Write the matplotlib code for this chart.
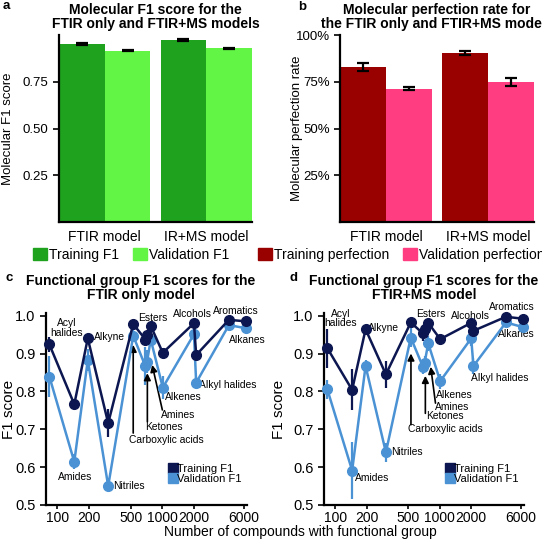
import matplotlib
matplotlib.use('Agg')
import matplotlib.pyplot as plt
from matplotlib.patches import Patch
from matplotlib.lines import Line2D
from matplotlib.ticker import FixedLocator, NullLocator, FixedFormatter
import numpy as np

plt.rcParams['font.family'] = ['Liberation Sans', 'DejaVu Sans']

# --- panel a / b data ---
models = ['FTIR model', 'IR+MS model']
f1_train = [0.954, 0.972]
f1_train_err = [0.005, 0.004]
f1_val = [0.917, 0.928]
f1_val_err = [0.004, 0.005]
perf_train = [0.830, 0.904]
perf_train_err = [0.022, 0.010]
perf_val = [0.713, 0.750]
perf_val_err = [0.007, 0.022]

# --- panel c / d data ---
groups = ['Acyl halides', 'Amides', 'Alkyne', 'Nitriles', 'Carboxylic acids', 'Ketones',
          'Amines', 'Esters', 'Alkenes', 'Alcohols', 'Alkyl halides', 'Aromatics', 'Alkanes']
counts = [84, 145, 195, 305, 528, 690, 715, 775, 1010, 2000, 2100, 4300, 6200]
ftir_train = [0.924, 0.766, 0.940, 0.716, 0.978, 0.937, 0.948, 0.973, 0.902, 0.980, 0.896, 0.989, 0.985]
ftir_train_err = [0.020, 0.010, 0.010, 0.037, 0.010, 0.015, 0.010, 0.010, 0.012, 0.005, 0.012, 0.005, 0.005]
ftir_val = [0.839, 0.614, 0.883, 0.550, 0.947, 0.866, 0.878, 0.937, 0.810, 0.951, 0.823, 0.975, 0.967]
ftir_val_err = [0.055, 0.020, 0.030, 0.010, 0.015, 0.050, 0.030, 0.015, 0.030, 0.015, 0.015, 0.010, 0.010]
ms_train = [0.914, 0.804, 0.964, 0.845, 0.982, 0.953, 0.964, 0.981, 0.938, 0.981, 0.960, 0.997, 0.992]
ms_train_err = [0.052, 0.054, 0.010, 0.036, 0.005, 0.020, 0.015, 0.010, 0.008, 0.010, 0.010, 0.005, 0.005]
ms_val = [0.805, 0.591, 0.867, 0.639, 0.942, 0.865, 0.874, 0.927, 0.827, 0.940, 0.867, 0.982, 0.970]
ms_val_err = [0.024, 0.076, 0.015, 0.026, 0.025, 0.020, 0.020, 0.020, 0.020, 0.020, 0.020, 0.010, 0.010]

W, H = 542, 540
fig = plt.figure(figsize=(W / 100, H / 100), dpi=100)


def box(l, t, r, b):
    return [l / W, 1 - b / H, (r - l) / W, (b - t) / H]


def bar_panel(ax, train, train_err, val, val_err, c_train, c_val, labels, ylabel, yticklabels, leg_x):
    x = np.arange(len(models))
    w = 0.45
    ekw = dict(ecolor='black', elinewidth=1.6, capsize=4, capthick=1.6)
    ax.bar(x - w / 2, train, w, yerr=train_err, color=c_train, error_kw=ekw)
    ax.bar(x + w / 2, val, w, yerr=val_err, color=c_val, error_kw=ekw)
    ax.set_xlim(-0.45, 1.45)
    ax.set_ylim(0, 1.0)
    ax.set_xticks(x)
    ax.set_xticklabels(models, fontsize=10)
    ax.tick_params(axis='x', length=0, pad=6)
    ax.set_yticks([0.25, 0.5, 0.75] if yticklabels is None else [0.25, 0.5, 0.75, 1.0])
    if yticklabels is not None:
        ax.set_yticklabels(yticklabels)
    ax.tick_params(axis='y', labelsize=9.5, length=4, width=1.2)
    for s in ['top', 'right']:
        ax.spines[s].set_visible(False)
    for s in ['left', 'bottom']:
        ax.spines[s].set_linewidth(1.6)
    ax.set_ylabel(ylabel, fontsize=9.5)
    handles = [Patch(color=c_train), Patch(color=c_val)]
    ax.legend(handles, labels, ncol=2, frameon=False, loc='upper center',
              bbox_to_anchor=(leg_x, -0.1), fontsize=10, handlelength=1.0, handleheight=1.0,
              handletextpad=0.15, columnspacing=1.0, borderpad=0)


ax_a = fig.add_axes(box(59, 35, 252, 222))
bar_panel(ax_a, f1_train, f1_train_err, f1_val, f1_val_err, '#1fa31f', '#62f545',
          ['Training F1', 'Validation F1'], 'Molecular F1 score', None, 0.375)
ax_a.yaxis.set_label_coords(-0.235, 0.5)
ax_a.set_title('Molecular F1 score for the\nFTIR only and FTIR+MS models',
               fontsize=10, fontweight='bold', pad=5, linespacing=1.05)

ax_b = fig.add_axes(box(340, 35, 534, 222))
bar_panel(ax_b, perf_train, perf_train_err, perf_val, perf_val_err, '#990000', '#ff3d80',
          ['Training perfection', 'Validation perfection'], 'Molecular perfection rate',
          ['25%', '50%', '75%', '100%'], 0.315)
ax_b.yaxis.set_label_coords(-0.19, 0.5)
ax_b.set_title('Molecular perfection rate for\nthe FTIR only and FTIR+MS models',
               fontsize=10, fontweight='bold', pad=5, linespacing=1.05)

navy = '#0c1650'
blue = '#4a92d4'


def line_panel(ax, train, train_err, val, val_err, labels, arrows):
    for y, e, c, z in [(val, val_err, blue, 3), (train, train_err, navy, 4)]:
        ax.errorbar(counts, y, yerr=e, color=c, lw=1.8, elinewidth=1.6, capsize=0,
                    marker='o', markersize=7, zorder=z, clip_on=False)
    ax.set_xscale('log')
    ax.set_xlim(78, 6400)
    ax.set_ylim(0.5, 1.007)
    ax.xaxis.set_major_locator(FixedLocator([100, 200, 500, 1000, 2000, 6000]))
    ax.xaxis.set_major_formatter(FixedFormatter(['100', '200', '500', '1000', '2000', '6000']))
    ax.xaxis.set_minor_locator(NullLocator())
    ax.set_yticks([0.5, 0.6, 0.7, 0.8, 0.9, 1.0])
    ax.set_yticklabels(['0.5', '0.6', '0.7', '0.8', '0.9', '1.0'])
    ax.tick_params(axis='y', labelsize=10.5, length=4, width=1.2)
    ax.tick_params(axis='x', labelsize=10, length=3, width=1.2, pad=1.5)
    for s in ['top', 'right']:
        ax.spines[s].set_visible(False)
    for s in ['left', 'bottom']:
        ax.spines[s].set_linewidth(1.6)
    ax.set_ylabel('F1 score', fontsize=11)
    for name, (tx, ty, ha) in labels.items():
        ax.text(tx, ty, name, fontsize=7.4, ha=ha, va='center', linespacing=0.95)
    for (x0, y0), (x1, y1) in arrows:
        ax.annotate('', xy=(x1, y1), xytext=(x0, y0),
                    arrowprops=dict(arrowstyle='-|>', color='black', lw=1.2,
                                    mutation_scale=10, shrinkA=0, shrinkB=0))
    handles = [Line2D([], [], marker='s', ls='', color=navy, markersize=7),
               Line2D([], [], marker='s', ls='', color=blue, markersize=7)]
    ax.legend(handles, ['Training F1', 'Validation F1'], loc='lower right',
              bbox_to_anchor=(1.0, 0.08), frameon=False, fontsize=8,
              handlelength=0.7, handletextpad=0.05, labelspacing=0.05, borderpad=0)


ax_c = fig.add_axes(box(46, 313, 247, 505))
labels_c = {
    'Acyl\nhalides': (122, 0.968, 'center'),
    'Alkyne': (225, 0.943, 'left'),
    'Amides': (148, 0.575, 'center'),
    'Nitriles': (343, 0.551, 'left'),
    'Esters': (811, 0.993, 'center'),
    'Alcohols': (1928, 1.004, 'center'),
    'Aromatics': (4990, 1.013, 'center'),
    'Alkanes': (4315, 0.936, 'left'),
    'Alkyl halides': (2250, 0.817, 'left'),
    'Alkenes': (1067, 0.785, 'left'),
    'Amines': (972, 0.737, 'left'),
    'Ketones': (692, 0.705, 'left'),
    'Carboxylic acids': (481, 0.672, 'left'),
}
arrows_c = [((528, 0.69), (528, 0.923)),
            ((720, 0.72), (720, 0.848)),
            ((1000, 0.751), (800, 0.87))]
line_panel(ax_c, ftir_train, ftir_train_err, ftir_val, ftir_val_err, labels_c, arrows_c)
ax_c.yaxis.set_label_coords(-0.15, 0.5)
ax_c.text(0.473, 1.055, 'Functional group F1 scores for the\nFTIR only model', transform=ax_c.transAxes,
          ha='center', va='bottom', fontsize=10, fontweight='bold', linespacing=1.05)

ax_d = fig.add_axes(box(324, 313, 524, 505))
labels_d = {
    'Acyl\nhalides': (113, 0.992, 'center'),
    'Alkyne': (205, 0.968, 'left'),
    'Amides': (156, 0.571, 'left'),
    'Nitriles': (343, 0.639, 'left'),
    'Esters': (817, 1.004, 'center'),
    'Alcohols': (1954, 1.0, 'center'),
    'Aromatics': (4855, 1.024, 'center'),
    'Alkanes': (5460, 0.952, 'center'),
    'Alkyl halides': (1986, 0.835, 'left'),
    'Alkenes': (929, 0.791, 'left'),
    'Amines': (895, 0.76, 'left'),
    'Ketones': (733, 0.734, 'left'),
    'Carboxylic acids': (496, 0.70, 'left'),
}
arrows_d = [((530, 0.712), (530, 0.90)),
            ((728, 0.742), (728, 0.841)),
            ((910, 0.769), (819, 0.865))]
line_panel(ax_d, ms_train, ms_train_err, ms_val, ms_val_err, labels_d, arrows_d)
ax_d.yaxis.set_label_coords(-0.19, 0.5)
ax_d.text(0.5, 1.055, 'Functional group F1 scores for the\nFTIR+MS model', transform=ax_d.transAxes,
          ha='center', va='bottom', fontsize=10, fontweight='bold', linespacing=1.05)

fig.text(300 / W, 1 - 532 / H, 'Number of compounds with functional group', ha='center',
         va='center', fontsize=10)

for letter, (px, py) in {'a': (3, 6), 'b': (298, 7), 'c': (5, 278), 'd': (290, 278)}.items():
    fig.text(px / W, 1 - py / H, letter, fontsize=9.5, fontweight='bold', ha='left', va='center')

fig.savefig('out.png', dpi=100)
